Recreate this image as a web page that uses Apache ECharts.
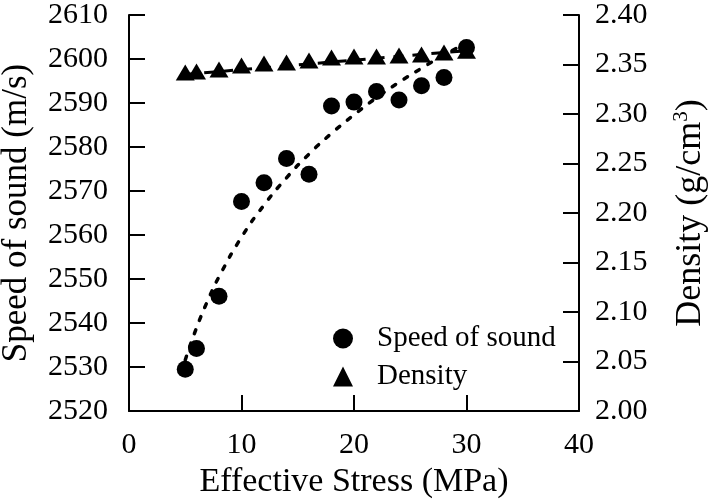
<!DOCTYPE html>
<html>
<head>
<meta charset="utf-8">
<script src="https://cdn.jsdelivr.net/npm/echarts@6/dist/echarts.min.js"></script>
<style>
  html, body { margin: 0; padding: 0; background: #fff; }
  #chart { width: 710px; height: 499px; }
</style>
</head>
<body>
<div id="chart"></div>
<script>
// measured points
const stress = [5, 6, 8, 10, 12, 14, 16, 18, 20, 22, 24, 26, 28, 30];
const speed = [2529.5, 2534.2, 2546.1, 2567.6, 2571.9, 2577.4, 2573.8, 2589.3, 2590.2, 2592.6, 2590.7, 2593.9, 2595.8, 2602.6];
const density = [2.342, 2.343, 2.345, 2.349, 2.351, 2.352, 2.354, 2.357, 2.358, 2.358, 2.359, 2.360, 2.362, 2.364];

// trend lines
const speedTrendX = [5, 6, 7, 8, 10, 12, 14, 16, 18, 20, 22, 24, 26, 28, 30];
const speedTrendY = [2531.6, 2538.9, 2545.1, 2550.5, 2559.5, 2566.8, 2573.0, 2578.4, 2583.1, 2587.3, 2591.2, 2594.7, 2597.9, 2600.9, 2603.6];
const densityTrendX = [5, 30];
const densityTrendY = [2.340, 2.364];

const FONT = '"Liberation Serif", "Times New Roman", serif';
const pairs = (xs, ys) => xs.map((x, i) => [x, ys[i]]);

const axisLine = { show: true, lineStyle: { color: '#000', width: 2 } };
const axisTick = { show: true, inside: true, length: 16, lineStyle: { color: '#000', width: 2 } };
const tickLabel = { color: '#000', fontFamily: FONT, fontSize: 30 };

const chart = echarts.init(document.getElementById('chart'));
chart.setOption({
  animation: false,
  backgroundColor: '#fff',
  textStyle: { fontFamily: FONT },
  grid: { left: 129, right: 131, top: 15, bottom: 88, containLabel: false, outerBoundsMode: 'none' },
  legend: {
    orient: 'vertical',
    left: 333,
    top: 324,
    padding: 0,
    itemWidth: 20,
    itemHeight: 20,
    itemGap: 9,
    textStyle: { color: '#000', fontFamily: FONT, fontSize: 29, padding: [0, 0, 0, 19] },
    data: [
      { name: 'Speed of sound', icon: 'circle' },
      { name: 'Density', icon: 'triangle' },
    ],
  },
  xAxis: {
    type: 'value',
    min: 0,
    max: 40,
    interval: 10,
    name: 'Effective Stress (MPa)',
    nameLocation: 'middle',
    nameGap: 53,
    nameTextStyle: { color: '#000', fontFamily: FONT, fontSize: 34 },
    axisLine,
    axisTick,
    axisLabel: { ...tickLabel, margin: 19 },
    splitLine: { show: false },
  },
  yAxis: [
    {
      type: 'value',
      min: 2520,
      max: 2610,
      interval: 10,
      name: 'Speed of sound (m/s)',
      nameLocation: 'middle',
      nameRotate: 90,
      nameGap: 95,
      nameTextStyle: { color: '#000', fontFamily: FONT, fontSize: 35 },
      axisLine,
      axisTick,
      axisLabel: { ...tickLabel, margin: 21, formatter: v => String(v) },
      splitLine: { show: false },
    },
    {
      type: 'value',
      position: 'right',
      min: 2.0,
      max: 2.4,
      interval: 0.05,
      name: '{n|Density (g/cm}{s|3}{n|)}',
      nameLocation: 'middle',
      nameRotate: 90,
      nameGap: 92,
      nameTextStyle: {
        color: '#000',
        fontFamily: FONT,
        fontSize: 36,
        rich: {
          n: { color: '#000', fontFamily: FONT, fontSize: 36 },
          s: { color: '#000', fontFamily: FONT, fontSize: 21, padding: [0, 0, 18, 0] },
        },
      },
      axisLine,
      axisTick,
      axisLabel: { ...tickLabel, margin: 16, formatter: v => v.toFixed(2) },
      splitLine: { show: false },
    },
  ],
  series: [
    {
      name: 'Density',
      type: 'scatter',
      yAxisIndex: 1,
      symbol: 'triangle',
      symbolSize: [19, 16],
      itemStyle: { color: '#000', opacity: 1 },
      data: pairs(stress, density),
      z: 2,
    },
    {
      name: 'Density trend',
      type: 'line',
      yAxisIndex: 1,
      showSymbol: false,
      lineStyle: { color: '#000', width: 3, type: [10, 9] },
      data: pairs(densityTrendX, densityTrendY),
      z: 3,
    },
    {
      name: 'Speed of sound',
      type: 'scatter',
      yAxisIndex: 0,
      symbol: 'circle',
      symbolSize: 17,
      itemStyle: { color: '#000', opacity: 1 },
      data: pairs(stress, speed),
      z: 4,
    },
    {
      name: 'Speed trend',
      type: 'line',
      yAxisIndex: 0,
      smooth: true,
      showSymbol: false,
      lineStyle: { color: '#000', width: 3.5, type: [4, 10], cap: 'round' },
      data: pairs(speedTrendX, speedTrendY),
      z: 5,
    },
  ],
});
</script>
</body>
</html>
